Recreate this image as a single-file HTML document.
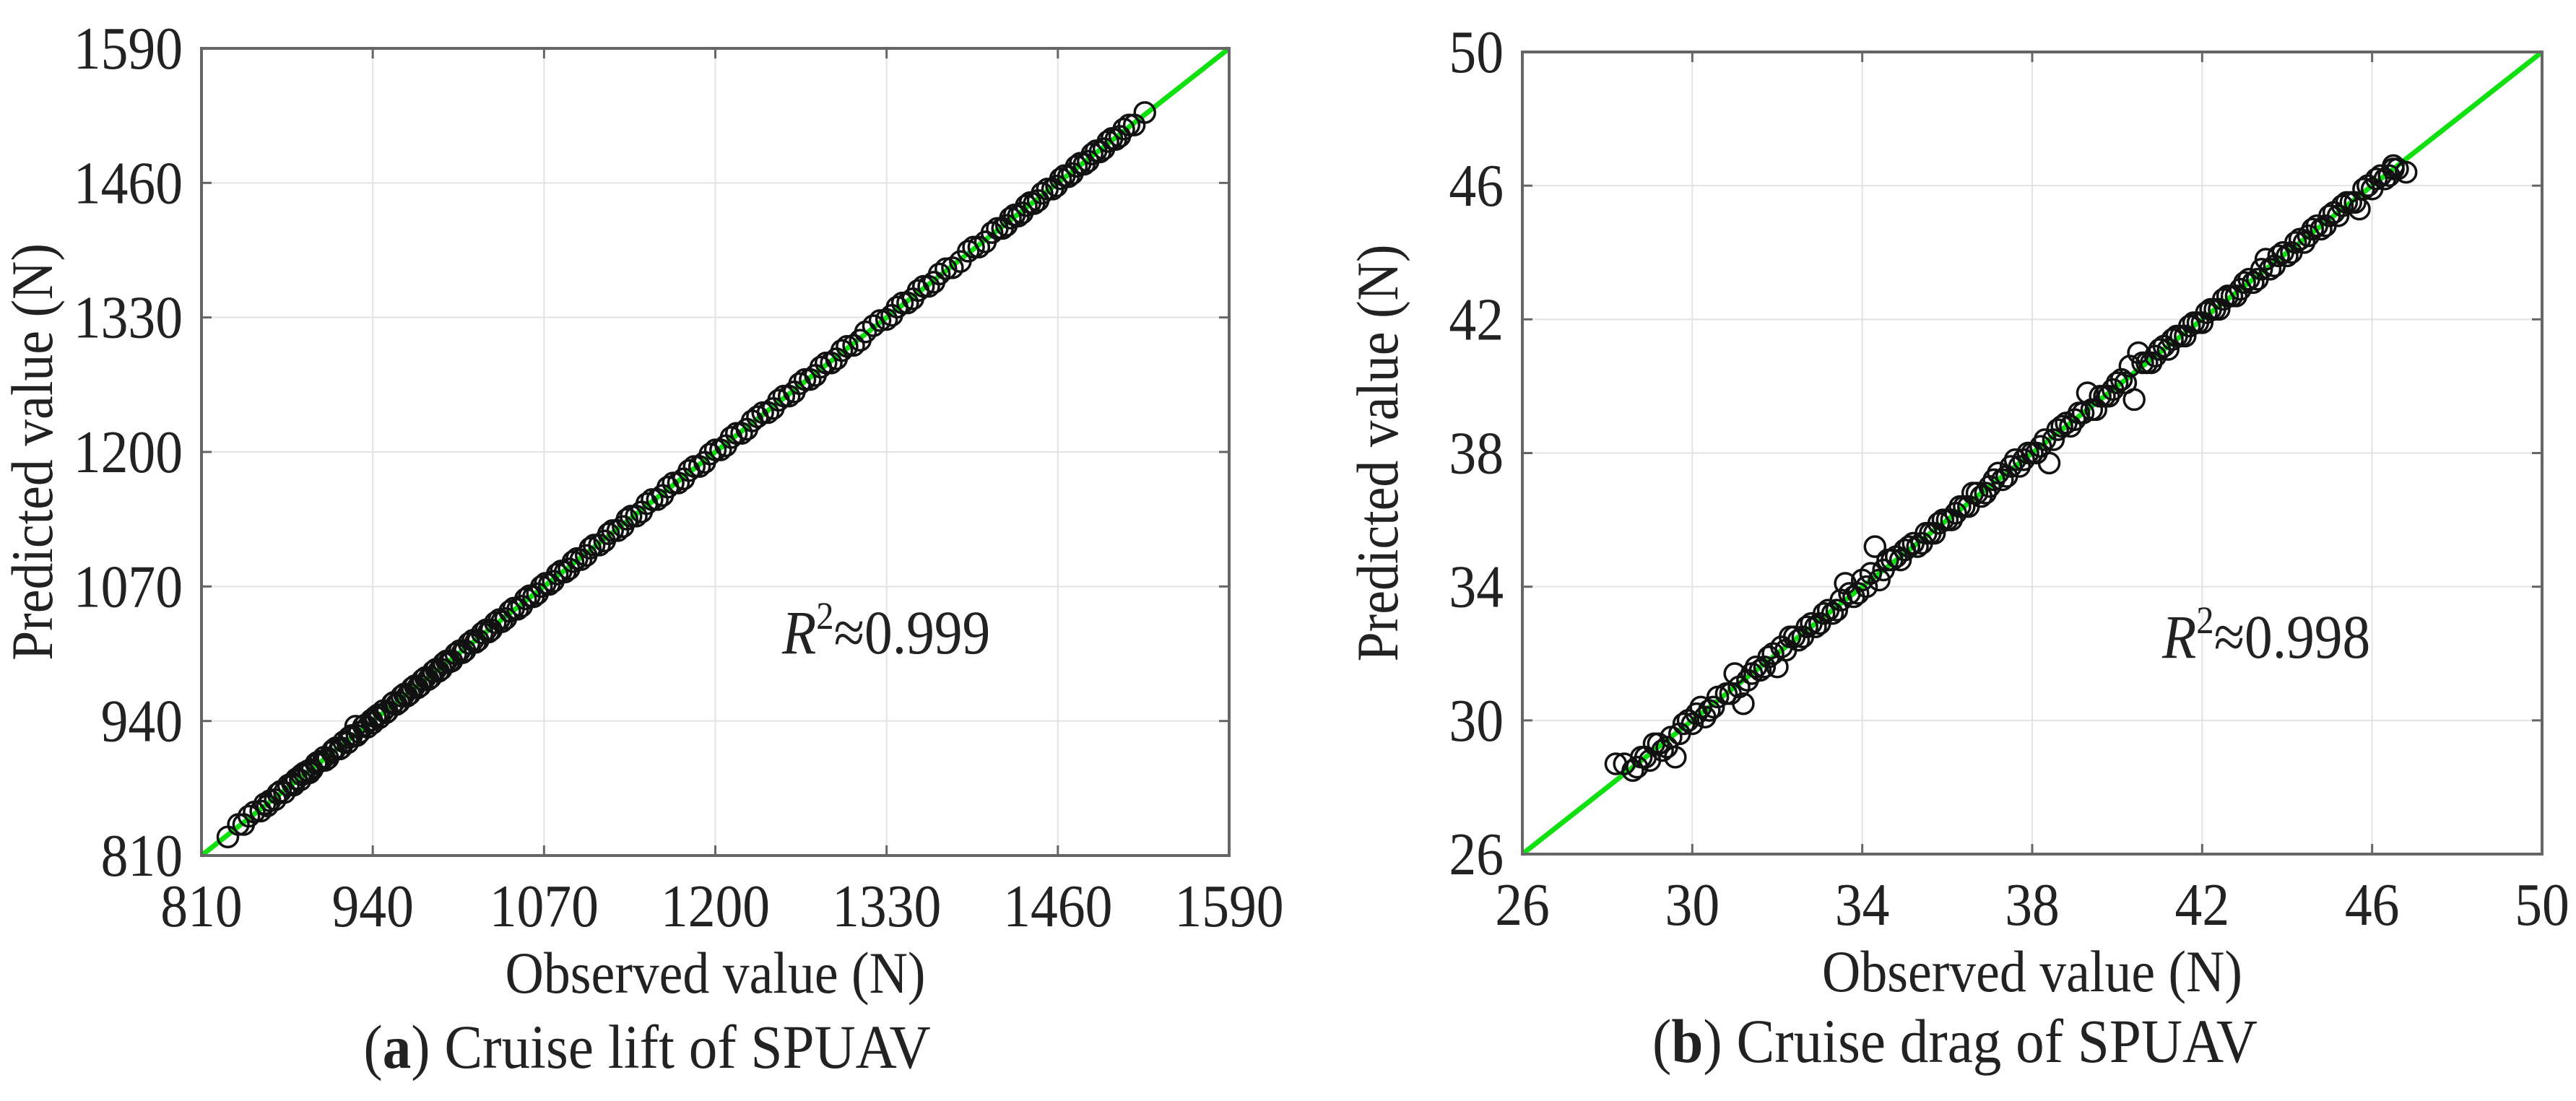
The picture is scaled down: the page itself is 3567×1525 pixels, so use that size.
<!DOCTYPE html>
<html><head><meta charset="utf-8"><style>
html,body{margin:0;padding:0;background:#fff}
svg{display:block}
text{font-family:"Liberation Serif","DejaVu Serif",serif;fill:#222}
</style></head><body>
<svg id="fig" width="3567" height="1525" viewBox="0 0 3567 1525" xmlns="http://www.w3.org/2000/svg"></svg>
<script>
const liftTicks=[810,940,1070,1200,1330,1460,1590];
const liftObserved=[830,838,842,846,850,855,858,862,866,870,873,876,879,882,885,888,891,894,897,900,903,906,909,912,915,918,921,924,927,930,933,936,939,942,945,948,951,955,958,962,966,970,974,978,982,986,990,994,998,1003,1008,1013,1018,1023,1028,1033,1038,1044,1050,1056,1062,1068,1074,1080,1086,1092,1098,1105,1112,1119,1126,1133,1140,1148,1156,1164,1172,1180,1188,1196,1204,1212,1220,1228,1236,1244,1252,1260,1268,1276,1284,1292,1300,1310,1314,1320,1330,1338,1346,1354,1362,1370,1380,1392,1400,1410,1418,1424,1430,1436,1442,1448,1456,1462,1468,1474,1480,1486,1492,1498,1504,1510,1518,1526,
 860,868,880,886,892,898,904,910,916,922,928,934,940,944,950,956,960,964,968,972,976,980,984,988,992,996,1000,1006,1010,1016,1020,1026,1030,1036,1041,1047,1053,1059,1065,1071,1077,1083,1089,1095,1102,1108,1116,1122,1130,1136,1144,1152,1160,1168,1176,1184,1192,1200,1208,1216,1224,1232,1240,1248,1256,1264,1272,1280,1288,1296,1305,1325,1334,1342,1350,1358,1366,1375,1386,1396,1405,1414,1421,1427,1433,1439,1445,1452,1459,1465,1471,1477,1483,1489,1495,1501,1507,1514];
const liftPredicted=[828,840,840,848,852,853,860,863,864,872,871,878,880,884,883,890,892,893,899,901,905,904,910,914,913,920,919,926,935,929,935,934,941,944,943,950,949,957,956,964,964,972,972,980,980,988,988,996,997,1005,1006,1015,1016,1025,1026,1035,1036,1046,1048,1058,1060,1070,1072,1082,1084,1094,1096,1107,1110,1121,1124,1135,1138,1150,1154,1166,1170,1182,1186,1198,1202,1214,1218,1230,1238,1242,1254,1258,1270,1274,1286,1290,1302,1308,1316,1322,1328,1340,1344,1356,1360,1372,1378,1394,1398,1412,1416,1426,1428,1438,1440,1450,1454,1464,1466,1476,1478,1488,1490,1500,1502,1512,1516,1528,
 858,870,878,888,890,900,902,912,914,924,926,936,938,946,948,958,958,966,966,974,974,982,982,990,990,998,998,1008,1008,1018,1018,1028,1028,1038,1039,1049,1051,1061,1063,1073,1075,1085,1087,1097,1100,1110,1114,1124,1128,1138,1142,1154,1158,1170,1174,1186,1190,1202,1206,1218,1222,1234,1238,1250,1254,1266,1270,1282,1286,1298,1303,1327,1332,1344,1348,1360,1364,1377,1384,1398,1403,1416,1419,1429,1431,1441,1443,1454,1457,1467,1469,1479,1481,1491,1493,1503,1505,1516];
const dragTicks=[26,30,34,38,42,46,50];
const dragObserved=[28.2,28.4,28.7,28.9,29.1,29.3,29.5,29.6,29.8,30.0,30.2,30.3,30.5,30.8,31.0,31.1,31.2,31.4,31.6,31.8,32.0,32.1,32.3,32.5,32.7,32.9,33.1,33.3,33.5,33.6,33.8,34.0,34.1,34.3,34.5,34.6,34.8,35.0,35.2,35.4,35.6,35.8,36.0,36.2,36.4,36.6,36.8,37.0,37.2,37.4,37.6,37.8,38.0,38.2,38.4,38.6,38.8,39.0,39.2,39.3,39.5,39.7,39.9,40.1,40.3,40.4,40.5,40.7,40.9,41.1,41.3,41.5,41.7,41.9,42.1,42.3,42.5,42.7,42.9,43.1,43.3,43.5,43.7,43.9,44.1,44.3,44.5,44.7,44.9,45.1,45.3,45.5,45.7,45.9,46.1,46.3,46.5,46.6,46.8,
 28.6,28.8,29.0,29.2,29.4,29.7,29.9,30.1,30.4,30.6,30.9,31.3,31.5,31.7,31.9,32.2,32.4,32.6,32.8,33.0,33.2,33.4,33.7,33.9,34.2,34.4,34.7,34.9,35.1,35.3,35.5,35.7,35.9,36.1,36.3,36.5,36.7,36.9,37.1,37.3,37.5,37.7,37.9,38.1,38.3,38.5,38.7,38.9,39.1,39.4,39.6,39.8,40.0,40.2,40.6,40.8,41.0,41.2,41.4,41.6,41.8,42.0,42.2,42.4,42.6,42.8,43.0,43.2,43.4,43.6,43.8,44.0,44.2,44.4,44.6,44.8,45.0,45.2,45.4,45.6,45.8,46.0,46.2,46.4,46.5];
const dragPredicted=[28.7,28.7,28.6,28.9,29.3,29.1,29.5,28.9,29.9,29.9,30.4,30.1,30.4,30.8,31.4,31.0,30.5,31.4,31.5,31.9,31.6,32.2,32.5,32.4,32.8,32.8,33.2,33.2,33.6,34.1,33.7,34.2,34.0,35.2,34.5,34.8,34.9,35.1,35.3,35.3,35.6,35.9,36.0,36.2,36.4,36.8,36.7,37.0,37.4,37.3,37.8,37.8,38.0,38.2,37.7,38.7,38.9,39.0,39.2,39.8,39.3,39.7,39.9,40.2,40.6,39.6,41.0,40.7,40.9,41.2,41.4,41.5,41.8,41.9,42.2,42.3,42.6,42.7,42.9,43.2,43.2,43.8,43.6,44.0,44.0,44.4,44.5,44.8,44.8,45.2,45.4,45.5,45.3,46.0,46.2,46.2,46.5,46.5,46.4,
 28.5,28.9,28.8,29.3,29.2,29.6,30.0,30.2,30.3,30.7,30.8,31.2,31.6,31.6,32.0,32.1,32.5,32.5,32.9,32.9,33.3,33.3,33.8,33.8,34.4,34.2,34.8,34.8,35.2,35.2,35.6,35.6,36.0,36.0,36.4,36.4,36.8,36.8,37.2,37.2,37.6,37.6,38.0,38.0,38.4,38.4,38.8,38.8,39.2,39.3,39.7,39.7,40.1,40.1,40.7,40.7,41.1,41.1,41.5,41.5,41.9,41.9,42.3,42.3,42.7,42.7,43.1,43.1,43.5,43.5,43.9,43.9,44.3,44.3,44.7,44.7,45.1,45.1,45.5,45.5,45.9,45.9,46.3,46.3,46.6];

const NS="http://www.w3.org/2000/svg";
const svg=document.getElementById('fig');
const SERIF='"Liberation Serif","DejaVu Serif",serif';
function mk(tag,attrs,parent,txt){const e=document.createElementNS(NS,tag);for(const k in attrs)e.setAttribute(k,attrs[k]);if(txt!==undefined)e.textContent=txt;(parent||svg).appendChild(e);return e;}

function panel(cfg){
  const g=mk('g',{});
  
  
  const {x0,x1,y0,y1,ticks}=cfg;
  const lo=ticks[0],hi=ticks[ticks.length-1];
  const sx=v=>x0+(v-lo)/(hi-lo)*(x1-x0);
  const sy=v=>y1-(v-lo)/(hi-lo)*(y1-y0);
  ticks.forEach((t,i)=>{
    if(i>0&&i<ticks.length-1){
      const gx=mk('line',{x1:sx(t),x2:sx(t),y1:y0,y2:y1,stroke:'#e3e3e3','stroke-width':2},g);
      
      
      const gy=mk('line',{x1:x0,x2:x1,y1:sy(t),y2:sy(t),stroke:'#e3e3e3','stroke-width':2},g);
      
      
    }
  });
  const diag=mk('line',{x1:sx(lo),y1:sy(lo),x2:sx(hi),y2:sy(hi),stroke:'#10e010','stroke-width':7},g);
  
  
  cfg.obs.forEach((o,i)=>{
    const c=mk('circle',{cx:sx(o),cy:sy(cfg.pred[i]),r:14,fill:'none',stroke:'#111','stroke-width':3.5},g);
    
    
  });
  const fr=mk('rect',{x:x0,y:y0,width:x1-x0,height:y1-y0,fill:'none',stroke:'#666','stroke-width':4},g);
  
  
  ticks.forEach(t=>{
    mk('line',{x1:sx(t),x2:sx(t),y1:y1,y2:y1-14,stroke:'#666','stroke-width':3},g);
    mk('line',{x1:sx(t),x2:sx(t),y1:y0,y2:y0+14,stroke:'#666','stroke-width':3},g);
    mk('line',{x1:x0,x2:x0+14,y1:sy(t),y2:sy(t),stroke:'#666','stroke-width':3},g);
    mk('line',{x1:x1,x2:x1-14,y1:sy(t),y2:sy(t),stroke:'#666','stroke-width':3},g);
    const xl=mk('text',{x:0,y:0,'font-size':84,'font-family':SERIF,'text-anchor':'middle',transform:`translate(${sx(t)},${y1+98}) scale(0.9,1)`},g,String(t));
    
    
    const yl=mk('text',{x:0,y:0,'font-size':84,'font-family':SERIF,'text-anchor':'end',transform:`translate(${x0-26},${sy(t)+28}) scale(0.9,1)`},g,String(t));
    
    
  });
  const xt=mk('text',{x:0,y:0,'font-size':82,'font-family':SERIF,'text-anchor':'middle',transform:`translate(${(x0+x1)/2},${y1+190}) scale(0.9,1)`},g,'Observed value (N)');
  
  
  const yt=mk('text',{x:0,y:0,'font-size':82,'font-family':SERIF,'text-anchor':'middle',transform:`translate(${cfg.ylabX},${(y0+y1)/2}) rotate(-90) scale(0.9,1)`},g,'Predicted value (N)');
  
  
  const r=mk('text',{x:0,y:0,'font-size':86,'font-family':SERIF,transform:`translate(${cfg.rX},${cfg.rY}) scale(0.9,1)`},g);
  
  
  mk('tspan',{'font-style':'italic'},r,'R');
  mk('tspan',{'font-size':54,dy:-34},r,'2');
  mk('tspan',{dy:34},r,'≈'+cfg.r2);
  const cap=mk('text',{x:0,y:0,'font-size':86,'font-family':SERIF,'text-anchor':'middle',transform:`translate(${cfg.capX},${cfg.capY}) scale(0.92,1)`},g);
  
  
  mk('tspan',{},cap,'(');
  mk('tspan',{'font-weight':'bold'},cap,cfg.letter);
  mk('tspan',{},cap,') '+cfg.caption);
}
panel({name:'lift-panel',x0:279,x1:1702,y0:67,y1:1185,ticks:liftTicks,obs:liftObserved,pred:liftPredicted,ylabX:72,rX:1083,rY:905,r2:'0.999',capX:896,capY:1479,letter:'a',caption:'Cruise lift of SPUAV'});
panel({name:'drag-panel',x0:2108,x1:3520,y0:72,y1:1183,ticks:dragTicks,obs:dragObserved,pred:dragPredicted,ylabX:1935,rX:2994,rY:911,r2:'0.998',capX:2707,capY:1471,letter:'b',caption:'Cruise drag of SPUAV'});
</script>
</body></html>
